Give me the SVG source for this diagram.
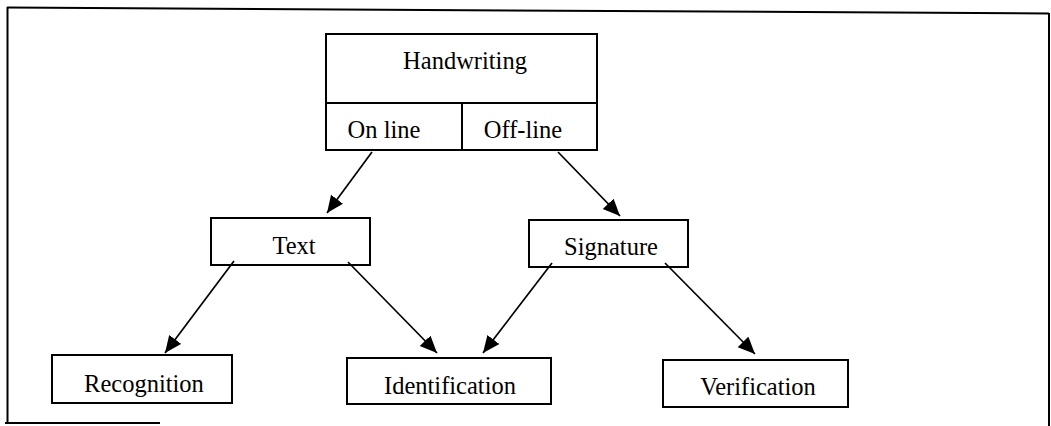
<svg xmlns="http://www.w3.org/2000/svg" width="1051" height="426" viewBox="0 0 1051 426">
  <style>
    .box { fill: #fff; stroke: #000; stroke-width: 2; }
    .frame { fill: none; stroke: #000; stroke-width: 2; }
    .lbl { font-family: "Liberation Serif", "Times New Roman", serif; font-size: 24.5px; fill: #000; text-anchor: middle; }
    .edge { stroke: #000; stroke-width: 1.7; fill: none; marker-end: url(#head); }
  </style>
  <defs>
    <marker id="head" markerUnits="userSpaceOnUse" markerWidth="20" markerHeight="16" refX="17" refY="7.5" orient="auto">
      <path d="M0,0 L17,7.5 L0,15 z" fill="#000"/>
    </marker>
  </defs>

  <rect width="1051" height="426" fill="#fff"/>

  <!-- outer frame -->
  <g id="frame">
    <line class="frame" x1="7" y1="7.5" x2="1049" y2="13.5"/>
    <line class="frame" x1="7.5" y1="7" x2="7.5" y2="424"/>
    <line class="frame" x1="5" y1="423" x2="160" y2="423"/>
    <line class="frame" x1="1049" y1="13" x2="1049" y2="426"/>
  </g>

  <!-- root node with its two halves -->
  <g id="handwriting">
    <rect class="box" x="326" y="34" width="271" height="116"/>
    <line class="frame" x1="326" y1="103" x2="597" y2="103"/>
    <line class="frame" x1="462" y1="103" x2="462" y2="150"/>
    <text class="lbl" x="465" y="69">Handwriting</text>
  </g>
  <g id="online">
    <text class="lbl" x="384" y="138">On line</text>
  </g>
  <g id="offline">
    <text class="lbl" x="523" y="138">Off-line</text>
  </g>

  <g id="text">
    <rect class="box" x="211" y="218" width="159" height="47"/>
    <text class="lbl" x="294" y="254">Text</text>
  </g>
  <g id="signature">
    <rect class="box" x="529" y="220" width="159" height="47"/>
    <text class="lbl" x="611" y="255">Signature</text>
  </g>

  <g id="recognition">
    <rect class="box" x="52" y="355" width="180" height="48"/>
    <text class="lbl" x="144" y="392">Recognition</text>
  </g>
  <g id="identification">
    <rect class="box" x="347" y="358" width="204" height="46"/>
    <text class="lbl" x="450" y="394">Identification</text>
  </g>
  <g id="verification">
    <rect class="box" x="663" y="360" width="185" height="47"/>
    <text class="lbl" x="758" y="395">Verification</text>
  </g>

  <!-- connectors -->
  <g id="connectors">
    <line class="edge" x1="372" y1="152" x2="327" y2="213"/>
    <line class="edge" x1="558" y1="152" x2="620" y2="216"/>
    <line class="edge" x1="234" y1="261" x2="165" y2="353"/>
    <line class="edge" x1="348" y1="262" x2="437" y2="353"/>
    <line class="edge" x1="552" y1="263" x2="483" y2="353"/>
    <line class="edge" x1="665" y1="263" x2="755" y2="354"/>
  </g>
</svg>
